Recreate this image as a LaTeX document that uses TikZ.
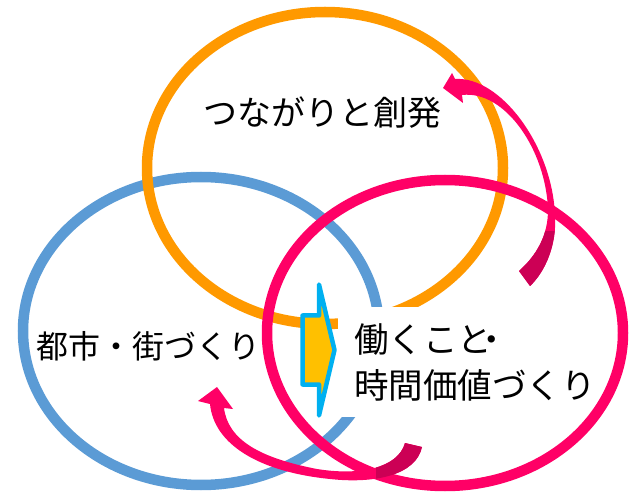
\documentclass[tikz,border=0pt]{standalone}
\usepackage{fontspec}
\newfontfamily\jp{Noto Sans CJK JP}
\usetikzlibrary{shapes.geometric}
\definecolor{orangeC}{HTML}{FF9900}
\definecolor{blueC}{HTML}{5B9BD5}
\definecolor{pinkC}{HTML}{FF0066}
\definecolor{darkpinkC}{HTML}{CC0055}
\definecolor{arrowfillC}{HTML}{FFC000}
\definecolor{arrowlineC}{HTML}{00B0F0}
\begin{document}
\begin{tikzpicture}[x=1pt,y=-1pt,
  ring/.style={draw, ellipse, line width=10.5pt, minimum width=356pt, minimum height=312pt, inner sep=0pt},
  lbl/.style={font=\jp\fontsize{34}{40}\selectfont, inner sep=0pt, text=black},
  blockarrow/.style={draw=arrowlineC, fill=arrowfillC, line width=4.5pt, line join=round}]
\useasboundingbox (0,0) rectangle (635,497);
% rings
\node[ring, draw=blueC, minimum height=308pt] (blue) at (201,331) {};
\node[ring, draw=orangeC] (orange) at (325,168) {};
\node[ring, draw=pinkC, minimum height=306pt] (pink) at (445,333) {};
% white label box
\node[fill=white, inner sep=0pt, minimum width=222pt, minimum height=110pt, anchor=north west] (wbox) at (338,307) {};
% centre block arrow
\draw[blockarrow] (302.5,315.5) -- (319,315.5) -- (319,284.5) -- (334.5,350) -- (319,415.5) -- (319,384.5) -- (302.5,384.5) -- cycle;
% curved arrow, upper right
\fill[pinkC] (443,88) -- (452,73) -- (455,79)
  .. controls (500,76) and (552,145) .. (555,215)
  .. controls (557,245) and (545,272) .. (530,286)
  -- (519,271)
  .. controls (537,255) and (548,235) .. (548,210)
  .. controls (546,150) and (505,90) .. (462,95)
  -- (463,103) -- cycle;
\begin{scope}
\clip (490,232) rectangle (600,300);
\fill[darkpinkC] (443,88) -- (452,73) -- (455,79)
  .. controls (500,76) and (552,145) .. (555,215)
  .. controls (557,245) and (545,272) .. (530,286)
  -- (519,271)
  .. controls (537,255) and (548,235) .. (548,210)
  .. controls (546,150) and (505,90) .. (462,95)
  -- (463,103) -- cycle;
\end{scope}
% curved arrow, lower left
\fill[pinkC] (198,401) -- (217,387) -- (233,409) -- (224,408)
  .. controls (228,440) and (260,458) .. (317,469)
  .. controls (360,476) and (398,468) .. (405,443)
  -- (422,447)
  .. controls (416,475) and (375,484) .. (330,479)
  .. controls (260,472) and (214,445) .. (210,404)
  -- cycle;
\begin{scope}
\clip (376,420) rectangle (440,497);
\fill[darkpinkC] (198,401) -- (217,387) -- (233,409) -- (224,408)
  .. controls (228,440) and (260,458) .. (317,469)
  .. controls (360,476) and (398,468) .. (405,443)
  -- (422,447)
  .. controls (416,475) and (375,484) .. (330,479)
  .. controls (260,472) and (214,445) .. (210,404)
  -- cycle;
\end{scope}
% labels
\node[lbl, anchor=base] (t1) at (322.5,125.5) {つながりと創発};
\node[lbl, font=\jp\fontsize{32}{40}\selectfont, anchor=base west] (t2) at (36.5,359) {都市・街づくり};
\node[lbl, font=\jp\fontsize{34.5}{40}\selectfont, anchor=base west] (t3a) at (354,352.5) {働くこと\kern-0.5em・};
\node[lbl, font=\jp\fontsize{34.5}{40}\selectfont, anchor=base west] (t3b) at (354,398.5) {時間価値づくり};
\end{tikzpicture}
\end{document}
